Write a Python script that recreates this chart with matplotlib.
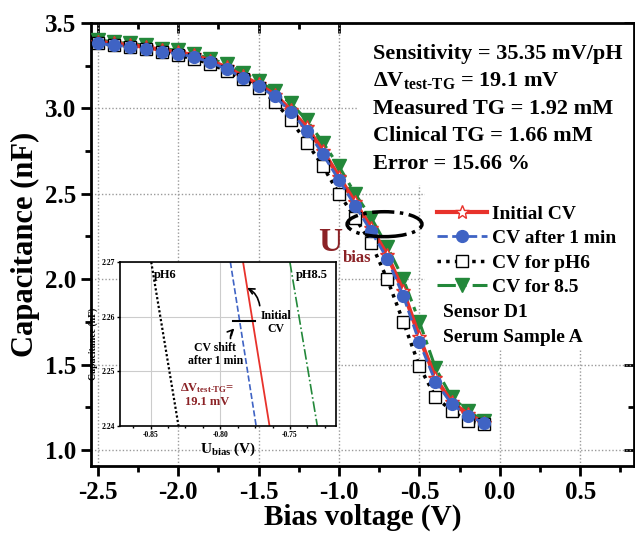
import matplotlib.pyplot as plt
from matplotlib.patches import Ellipse, Rectangle
from matplotlib.ticker import MultipleLocator, FormatStrFormatter

plt.rcParams['font.family'] = 'Liberation Serif'
plt.rcParams['font.weight'] = 'bold'
plt.rcParams['axes.labelweight'] = 'bold'
plt.rcParams['mathtext.fontset'] = 'custom'
plt.rcParams['mathtext.rm'] = 'Liberation Serif:bold'
plt.rcParams['mathtext.it'] = 'Liberation Serif:bold'
plt.rcParams['mathtext.bf'] = 'Liberation Serif:bold'

# main C-V curves
bias = [-2.5, -2.4, -2.3, -2.2, -2.1, -2.0, -1.9, -1.8, -1.7, -1.6, -1.5, -1.4, -1.3,
        -1.2, -1.1, -1.0, -0.9, -0.8, -0.7, -0.6, -0.5, -0.4, -0.3, -0.2, -0.1]
cv_initial = [3.39, 3.38, 3.37, 3.36, 3.34, 3.33, 3.31, 3.28, 3.24, 3.19, 3.14, 3.08, 2.99,
              2.89, 2.75, 2.60, 2.45, 2.30, 2.14, 1.93, 1.66, 1.42, 1.28, 1.21, 1.16]
cv_1min = [3.38, 3.37, 3.36, 3.35, 3.33, 3.32, 3.30, 3.27, 3.23, 3.18, 3.13, 3.07, 2.98,
           2.87, 2.73, 2.58, 2.43, 2.28, 2.12, 1.90, 1.63, 1.40, 1.27, 1.20, 1.16]
cv_ph6 = [3.38, 3.37, 3.36, 3.35, 3.33, 3.31, 3.29, 3.26, 3.22, 3.17, 3.12, 3.04, 2.93,
          2.80, 2.66, 2.50, 2.36, 2.21, 2.00, 1.75, 1.49, 1.31, 1.23, 1.17, 1.15]
cv_ph85 = [3.40, 3.39, 3.38, 3.37, 3.35, 3.34, 3.32, 3.29, 3.26, 3.21, 3.16, 3.10, 3.03,
           2.93, 2.80, 2.66, 2.50, 2.36, 2.19, 2.00, 1.75, 1.48, 1.31, 1.23, 1.17]

# inset (zoom near 2.25 nF)
inset_c = [2.27, 2.24]
inset_ph6 = [-0.8496, -0.8300]
inset_1min = [-0.7928, -0.7743]
inset_initial = [-0.7837, -0.7647]
inset_ph85 = [-0.7501, -0.7304]
shift_v = [-0.791, -0.775]
shift_c = [2.2592, 2.2592]

stats = ['Sensitivity = 35.35 mV/pH',
         r'$\Delta$V$_{\text{test-TG}}$ = 19.1 mV',
         'Measured TG = 1.92 mM',
         'Clinical TG = 1.66 mM',
         'Error = 15.66 %']
notes = ['Sensor D1', 'Serum Sample A']

RED = '#e8322b'
BLUE = '#3f63c4'
GREEN = '#23883a'
DARKRED = '#8b2226'

fig = plt.figure(figsize=(6.35, 5.33), dpi=100)
ax = fig.add_axes([91 / 635, 67 / 533, 543 / 635, 443 / 533])

ax.plot(bias, cv_ph85, color=GREEN, ls=(0, (6, 2, 1.5, 2)), lw=2.2, marker='v', ms=10,
        mfc=GREEN, mec=GREEN, label='CV for 8.5', zorder=3)
ax.plot(bias, cv_initial, color=RED, lw=3, marker='*', ms=10, mfc='white', mec=RED,
        label='Initial CV', zorder=4)
ax.plot(bias, cv_ph6, color='black', ls=(0, (1, 1.5)), lw=2.5, marker='s', ms=9,
        mfc='white', mec='black', mew=1, label='CV for pH6', zorder=5)
ax.plot(bias, cv_1min, color=BLUE, ls='--', lw=2, marker='o', ms=8.5, mfc=BLUE, mec=BLUE,
        label='CV after 1 min', zorder=6)

ax.set_xlim(-2.543, 0.835)
ax.set_ylim(0.906, 3.5)
ax.xaxis.set_major_locator(MultipleLocator(0.5))
ax.xaxis.set_minor_locator(MultipleLocator(0.25))
ax.yaxis.set_major_locator(MultipleLocator(0.5))
ax.yaxis.set_minor_locator(MultipleLocator(0.25))
ax.xaxis.set_major_formatter(FormatStrFormatter('%.1f'))
ax.yaxis.set_major_formatter(FormatStrFormatter('%.1f'))
ax.grid(True, which='major', ls=(0, (1, 1.5)), color='#9a9a9a', lw=1)
ax.tick_params(which='major', length=7, width=2, labelsize=18, direction='out')
ax.tick_params(which='minor', length=4, width=2, direction='out')
for s in ax.spines.values():
    s.set_linewidth(2)

top = ax.secondary_xaxis('top')
top.xaxis.set_major_locator(MultipleLocator(0.5))
top.xaxis.set_minor_locator(MultipleLocator(0.25))
top.tick_params(which='major', direction='in', length=7, width=2, labeltop=False)
top.tick_params(which='minor', direction='in', length=4, width=2)
right = ax.secondary_yaxis('right')
right.yaxis.set_major_locator(MultipleLocator(0.5))
right.yaxis.set_minor_locator(MultipleLocator(0.25))
right.tick_params(which='major', direction='in', length=7, width=2, labelright=False)
right.tick_params(which='minor', direction='in', length=4, width=2)

ax.set_xlabel('Bias voltage (V)', fontsize=21, labelpad=0)
ax.set_ylabel('Capacitance (nF)', fontsize=22, labelpad=4)

# white panels behind the text block and the legend
ax.add_patch(Rectangle((0.492, 0.634), 0.508, 0.366, transform=ax.transAxes,
                       fc='white', ec='none', zorder=2.2))
ax.add_patch(Rectangle((0.615, 0.262), 0.385, 0.372, transform=ax.transAxes,
                       fc='white', ec='none', zorder=2.2))

for i, line in enumerate(stats):
    ax.text(0.519, 0.919 - i * 0.0621, line, transform=ax.transAxes, fontsize=16,
            va='baseline', ha='left', zorder=2.3)

handles, labels = ax.get_legend_handles_labels()
order = [1, 3, 2, 0]
leg = ax.legend([handles[i] for i in order], [labels[i] for i in order],
                loc='upper left', bbox_to_anchor=(0.615, 0.615), fontsize=14,
                numpoints=1, handlelength=2.6, handletextpad=0.25, labelspacing=0.35,
                borderaxespad=0, borderpad=0.6, frameon=False)
leg.set_zorder(2.4)
for i, line in enumerate(notes):
    ax.text(0.648, 0.3454 - i * 0.0564, line, transform=ax.transAxes, fontsize=14,
            va='center', ha='left', zorder=2.3)

ax.text(-1.058, 2.213, 'U', fontsize=24, color=DARKRED, ha='center', va='center')
ax.text(-0.885, 2.126, 'bias', fontsize=12, color=DARKRED, ha='center', va='center')
ax.add_patch(Ellipse((-0.717, 2.322), 0.466, 0.146, fill=False, ls='-.', lw=2.5,
                     ec='black', zorder=7))

# inset
axin = fig.add_axes([120 / 635, 107 / 533, 216 / 635, 164 / 533])
axin.plot(inset_ph6, inset_c, color='black', ls=(0, (1, 1)), lw=1.6)
axin.plot(inset_1min, inset_c, color=BLUE, ls='--', lw=1.2)
axin.plot(inset_initial, inset_c, color=RED, lw=1.3)
axin.plot(inset_ph85, inset_c, color=GREEN, ls='-.', lw=1.2)
axin.plot(shift_v, shift_c, color='black', lw=1.5)
axin.set_xlim(-0.872, -0.717)
axin.set_ylim(2.24, 2.27)
axin.set_xticks([-0.85, -0.80, -0.75])
axin.set_yticks([2.24, 2.25, 2.26, 2.27])
axin.xaxis.set_minor_locator(MultipleLocator(0.0125))
axin.xaxis.set_major_formatter(FormatStrFormatter('%.2f'))
axin.yaxis.set_major_formatter(FormatStrFormatter('%.2f'))
axin.grid(True, which='major', color='#cccccc', lw=0.8)
axin.tick_params(which='major', labelsize=5.5, length=2.5, width=1, pad=1)
axin.tick_params(which='minor', length=1.5, width=1)
for s in axin.spines.values():
    s.set_linewidth(1.2)
axin.set_xlabel(r'U$_{\mathregular{bias}}$ (V)', fontsize=11, labelpad=1)
axin.set_ylabel('Capacitance (nF)', fontsize=7)
axin.yaxis.set_label_coords(-22 / 216, 0.5)

axin.text(-0.8396, 2.2676, 'pH6', fontsize=9, ha='center', va='center')
axin.text(-0.7346, 2.2676, 'pH8.5', fontsize=9, ha='center', va='center')
axin.text(-0.7604, 2.259, 'Initial\nCV', fontsize=8.5, ha='center', va='center',
          linespacing=1.1)
axin.text(-0.8036, 2.253, 'CV shift\nafter 1 min', fontsize=8.5, ha='center', va='center',
          linespacing=1.1)
axin.text(-0.8094, 2.2457, r'$\Delta$V$_{\text{test-TG}}$=' + '\n19.1 mV', fontsize=9,
          color=DARKRED, ha='center', va='center', linespacing=1.1)
axin.annotate('', xy=(-0.7825, 2.2655), xytext=(-0.7715, 2.2615),
              arrowprops=dict(arrowstyle='->', connectionstyle='arc3,rad=0.3', lw=1.2))
axin.annotate('', xy=(-0.7885, 2.2582), xytext=(-0.7925, 2.2555),
              arrowprops=dict(arrowstyle='->', connectionstyle='arc3,rad=-0.3', lw=1.2))

fig.savefig('out.png', dpi=100)
